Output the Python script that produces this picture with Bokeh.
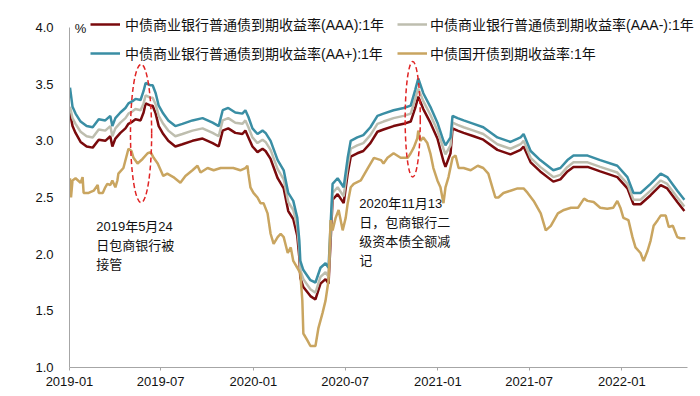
import pandas as pd
from datetime import datetime
from bokeh.plotting import figure
from bokeh.models import (Range1d, Legend, LegendItem, Label, FixedTicker,
                          NumeralTickFormatter, DatetimeTickFormatter, MonthsTicker,
                          ColumnDataSource)
from bokeh.embed import file_html
from bokeh.resources import INLINE

# ---------------- data ----------------
credit_dates = [
    "2019-01-02", "2019-01-07", "2019-01-13", "2019-01-23", "2019-02-04", "2019-02-16",
    "2019-02-28", "2019-03-13", "2019-03-23", "2019-03-27", "2019-04-02", "2019-04-12",
    "2019-04-22", "2019-04-28", "2019-05-06", "2019-05-12", "2019-05-22", "2019-05-28",
    "2019-06-01", "2019-06-11", "2019-06-15", "2019-06-21", "2019-06-27", "2019-07-06",
    "2019-07-16", "2019-07-30", "2019-08-13", "2019-09-02", "2019-09-22", "2019-10-12",
    "2019-10-24", "2019-11-01", "2019-11-12", "2019-11-26", "2019-12-10", "2019-12-16",
    "2019-12-22", "2019-12-30", "2020-01-09", "2020-01-19", "2020-01-25", "2020-02-04",
    "2020-02-18", "2020-03-01", "2020-03-10", "2020-03-20", "2020-03-28", "2020-04-01",
    "2020-04-03", "2020-04-09", "2020-04-23", "2020-05-03", "2020-05-13", "2020-05-23",
    "2020-05-29", "2020-06-02", "2020-06-06", "2020-06-16", "2020-06-28", "2020-07-06",
    "2020-07-12", "2020-07-25", "2020-08-06", "2020-08-20", "2020-09-03", "2020-09-15",
    "2020-10-05", "2020-10-25", "2020-11-08", "2020-11-17", "2020-11-23", "2020-12-03",
    "2020-12-17", "2020-12-31", "2021-01-12", "2021-01-16", "2021-01-26", "2021-01-30",
    "2021-02-09", "2021-02-21", "2021-03-13", "2021-04-01", "2021-04-29", "2021-05-25",
    "2021-06-14", "2021-06-20", "2021-07-04", "2021-07-23", "2021-08-18", "2021-09-01",
    "2021-09-15", "2021-09-27", "2021-10-25", "2021-11-19", "2021-12-23", "2022-01-12",
    "2022-01-24", "2022-02-07", "2022-02-27", "2022-03-19", "2022-04-01", "2022-04-21",
    "2022-05-05",
]
aa_plus = [
    3.47, 3.30, 3.24, 3.17, 3.13, 3.12, 3.19, 3.18, 3.22, 3.13, 3.20, 3.25,
    3.29, 3.33, 3.35, 3.37, 3.36, 3.44, 3.51, 3.49, 3.49, 3.42, 3.31, 3.24,
    3.18, 3.13, 3.15, 3.18, 3.20, 3.16, 3.13, 3.27, 3.29, 3.25, 3.24, 3.27,
    3.21, 3.11, 3.06, 3.09, 3.07, 3.00, 2.83, 2.74, 2.54, 2.47, 2.32, 2.12,
    1.94, 1.86, 1.77, 1.75, 1.88, 1.92, 1.88, 2.25, 2.62, 2.67, 2.59, 2.85,
    3.00, 3.03, 3.05, 3.12, 3.22, 3.24, 3.27, 3.29, 3.31, 3.45, 3.55, 3.42,
    3.30, 3.16, 3.00, 2.96, 3.03, 3.22, 3.20, 3.18, 3.15, 3.12, 3.03, 2.99,
    3.03, 3.06, 2.91, 2.83, 2.74, 2.76, 2.83, 2.87, 2.87, 2.83, 2.78, 2.68,
    2.54, 2.54, 2.62, 2.71, 2.68, 2.56, 2.48,
]
aaa_minus = [
    3.30, 3.20, 3.15, 3.08, 3.04, 3.03, 3.10, 3.09, 3.13, 3.04, 3.11, 3.16,
    3.20, 3.24, 3.26, 3.28, 3.27, 3.33, 3.40, 3.38, 3.38, 3.32, 3.22, 3.15,
    3.09, 3.04, 3.06, 3.09, 3.11, 3.07, 3.04, 3.18, 3.20, 3.16, 3.15, 3.18,
    3.12, 3.03, 2.98, 3.01, 2.99, 2.92, 2.75, 2.66, 2.46, 2.39, 2.24, 2.04,
    1.86, 1.78, 1.69, 1.66, 1.80, 1.84, 1.80, 2.17, 2.54, 2.59, 2.51, 2.78,
    2.93, 2.96, 2.98, 3.05, 3.15, 3.17, 3.20, 3.22, 3.24, 3.37, 3.46, 3.35,
    3.23, 3.09, 2.93, 2.88, 2.96, 3.16, 3.14, 3.12, 3.09, 3.06, 2.97, 2.93,
    2.97, 3.00, 2.85, 2.77, 2.68, 2.70, 2.77, 2.81, 2.81, 2.77, 2.72, 2.62,
    2.48, 2.48, 2.56, 2.65, 2.62, 2.50, 2.42,
]
aaa = [
    3.25, 3.13, 3.07, 2.99, 2.95, 2.94, 3.01, 3.00, 3.04, 2.95, 3.02, 3.07,
    3.11, 3.15, 3.17, 3.19, 3.18, 3.25, 3.33, 3.31, 3.31, 3.24, 3.13, 3.06,
    3.00, 2.95, 2.97, 3.00, 3.02, 2.98, 2.95, 3.09, 3.11, 3.07, 3.06, 3.09,
    3.03, 2.95, 2.90, 2.93, 2.91, 2.84, 2.67, 2.58, 2.38, 2.31, 2.16, 1.97,
    1.79, 1.71, 1.63, 1.60, 1.74, 1.78, 1.74, 2.11, 2.48, 2.53, 2.45, 2.71,
    2.86, 2.89, 2.91, 2.98, 3.08, 3.10, 3.13, 3.15, 3.17, 3.29, 3.39, 3.28,
    3.16, 3.02, 2.82, 2.77, 2.89, 3.11, 3.09, 3.07, 3.04, 3.01, 2.92, 2.88,
    2.92, 2.95, 2.81, 2.73, 2.64, 2.66, 2.73, 2.77, 2.77, 2.73, 2.68, 2.58,
    2.44, 2.44, 2.52, 2.61, 2.58, 2.46, 2.38,
]

cdb_dates = [
    "2019-01-02", "2019-01-04", "2019-01-07", "2019-01-13", "2019-01-23", "2019-01-27",
    "2019-01-29", "2019-02-08", "2019-02-18", "2019-02-26", "2019-02-28", "2019-03-08",
    "2019-03-13", "2019-03-17", "2019-03-23", "2019-03-27", "2019-04-02", "2019-04-06",
    "2019-04-08", "2019-04-18", "2019-04-28", "2019-05-04", "2019-05-08", "2019-05-16",
    "2019-05-26", "2019-06-05", "2019-06-11", "2019-06-17", "2019-06-25", "2019-07-01",
    "2019-07-06", "2019-07-14", "2019-07-26", "2019-08-09", "2019-08-19", "2019-09-02",
    "2019-09-12", "2019-09-18", "2019-10-02", "2019-10-14", "2019-10-28", "2019-11-10",
    "2019-11-22", "2019-12-06", "2019-12-16", "2019-12-20", "2019-12-22", "2019-12-26",
    "2020-01-01", "2020-01-09", "2020-01-15", "2020-01-21", "2020-01-29", "2020-02-04",
    "2020-02-10", "2020-02-18", "2020-02-24", "2020-03-01", "2020-03-09", "2020-03-15",
    "2020-03-20", "2020-03-28", "2020-04-03", "2020-04-07", "2020-04-09", "2020-04-17",
    "2020-04-23", "2020-05-03", "2020-05-09", "2020-05-17", "2020-05-23", "2020-05-29",
    "2020-06-02", "2020-06-06", "2020-06-12", "2020-06-18", "2020-06-26", "2020-07-02",
    "2020-07-06", "2020-07-12", "2020-07-18", "2020-08-01", "2020-08-15", "2020-08-27",
    "2020-09-10", "2020-09-15", "2020-09-23", "2020-10-05", "2020-10-19", "2020-11-02",
    "2020-11-08", "2020-11-14", "2020-11-21", "2020-11-23", "2020-11-27", "2020-12-03",
    "2020-12-11", "2020-12-17", "2020-12-23", "2020-12-31", "2021-01-06", "2021-01-12",
    "2021-01-16", "2021-01-22", "2021-01-30", "2021-02-05", "2021-02-11", "2021-02-21",
    "2021-03-07", "2021-03-21", "2021-04-01", "2021-04-11", "2021-04-19", "2021-04-25",
    "2021-05-01", "2021-05-11", "2021-05-25", "2021-06-08", "2021-06-20", "2021-06-28",
    "2021-07-10", "2021-07-24", "2021-08-03", "2021-08-13", "2021-08-27", "2021-09-08",
    "2021-09-22", "2021-10-06", "2021-10-12", "2021-10-18", "2021-10-25", "2021-11-06",
    "2021-11-19", "2021-12-03", "2021-12-15", "2021-12-23", "2021-12-29", "2022-01-04",
    "2022-01-14", "2022-01-22", "2022-01-28", "2022-02-07", "2022-02-13", "2022-02-21",
    "2022-02-27", "2022-03-05", "2022-03-13", "2022-03-19", "2022-03-29", "2022-04-04",
    "2022-04-12", "2022-04-21", "2022-04-27", "2022-05-07",
]
cdb = [
    2.67, 2.50, 2.65, 2.67, 2.63, 2.68, 2.54, 2.54, 2.56, 2.61, 2.54, 2.54,
    2.59, 2.62, 2.61, 2.65, 2.59, 2.65, 2.71, 2.76, 2.93, 2.91, 2.85, 2.80,
    2.84, 2.89, 2.90, 2.85, 2.80, 2.74, 2.69, 2.71, 2.68, 2.63, 2.69, 2.74,
    2.78, 2.72, 2.76, 2.74, 2.76, 2.76, 2.76, 2.74, 2.76, 2.78, 2.71, 2.59,
    2.54, 2.50, 2.45, 2.45, 2.36, 2.18, 2.09, 2.15, 2.18, 2.15, 2.01, 2.06,
    1.94, 1.88, 1.83, 1.59, 1.30, 1.24, 1.19, 1.19, 1.35, 1.48, 1.59, 1.77,
    2.30, 2.21, 2.32, 2.39, 2.21, 2.32, 2.45, 2.59, 2.62, 2.65, 2.76, 2.85,
    2.83, 2.80, 2.85, 2.89, 2.85, 2.85, 2.89, 2.94, 3.02, 3.09, 3.00, 3.03,
    2.98, 2.89, 2.76, 2.65, 2.59, 2.45, 2.59, 2.68, 2.85, 2.87, 2.76, 2.76,
    2.74, 2.78, 2.76, 2.71, 2.59, 2.50, 2.50, 2.54, 2.56, 2.58, 2.58, 2.54,
    2.47, 2.36, 2.21, 2.25, 2.36, 2.39, 2.41, 2.41, 2.45, 2.49, 2.47, 2.46,
    2.41, 2.40, 2.41, 2.47, 2.41, 2.32, 2.30, 2.15, 2.06, 2.01, 1.94, 2.03,
    2.12, 2.25, 2.30, 2.34, 2.34, 2.24, 2.25, 2.15, 2.14, 2.14,
]

series_names = [
    "中债商业银行普通债到期收益率(AAA):1年",
    "中债商业银行普通债到期收益率(AAA-):1年",
    "中债商业银行普通债到期收益率(AA+):1年",
    "中债国开债到期收益率:1年",
]
y_ticks = [1.0, 1.5, 2.0, 2.5, 3.0, 3.5, 4.0]
y_axis_bounds = (1.0, 4.0)
x_axis_bounds = (datetime(2019, 1, 1), datetime(2022, 5, 11))

# highlighted events (dashed ellipses)
event_dates = ["2019-05-23", "2020-11-12"]
event_y = [3.065, 3.19]
event_width_days = [42, 30]
event_height = [1.22, 1.02]

note_texts = ["2019年5月24\n日包商银行被\n接管", "2020年11月13\n日，包商银行二\n级资本债全额减\n记"]
note_dates = ["2019-02-23", "2020-07-29"]
note_y = [2.31, 2.51]

# ---------------- styling ----------------
FONT = "Liberation Sans, Noto Sans CJK SC"
C_AAA = "#7A0A0C"
C_AAAM = "#BEBEAF"
C_AAP = "#3A8EA4"
C_CDB = "#C9A560"
AXIS_C = "#A6A6A6"

# the frame reaches the top/right edges so the legend (drawn inside it) is not
# clipped; the axis lines themselves are bounded to the data window
p = figure(width=700, height=396, x_axis_type="datetime",
           x_range=Range1d(datetime(2019, 1, 1), datetime(2022, 6, 6)),
           y_range=Range1d(1.0, 4.238),
           output_backend="svg", toolbar_location=None,
           min_border_left=69, min_border_right=0, min_border_top=0, min_border_bottom=29)
p.outline_line_color = None
p.grid.visible = False
p.background_fill_color = "white"
p.border_fill_color = "white"

cd = pd.to_datetime(credit_dates)
src = ColumnDataSource(dict(x=cd, aaa=aaa, aaam=aaa_minus, aap=aa_plus))
csrc = ColumnDataSource(dict(x=pd.to_datetime(cdb_dates), y=cdb))

r_aaa = p.line("x", "aaa", source=src, line_color=C_AAA, line_width=2.5)
r_aaam = p.line("x", "aaam", source=src, line_color=C_AAAM, line_width=2.5)
r_aap = p.line("x", "aap", source=src, line_color=C_AAP, line_width=2.5)
r_cdb = p.line("x", "y", source=csrc, line_color=C_CDB, line_width=2.5)

esrc = ColumnDataSource(dict(
    x=pd.to_datetime(event_dates), y=event_y,
    w=[d * 86400000 for d in event_width_days], h=event_height))
p.ellipse(x="x", y="y", width="w", height="h", source=esrc,
          fill_color=None, line_color="#E02424", line_width=1.5, line_dash="5 3")

# axes
p.yaxis.ticker = FixedTicker(ticks=y_ticks)
p.yaxis.bounds = y_axis_bounds
p.yaxis.formatter = NumeralTickFormatter(format="0.0")
p.yaxis.major_tick_out = 0
p.yaxis.major_tick_in = 0
p.yaxis.minor_tick_out = 0
p.yaxis.minor_tick_in = 0
p.yaxis.major_label_standoff = 16
p.yaxis.axis_line_color = AXIS_C

p.xaxis.ticker = MonthsTicker(months=[0, 6])
p.xaxis.bounds = x_axis_bounds
p.xaxis.formatter = DatetimeTickFormatter(months="%Y-%m", years="%Y-%m", days="%Y-%m")
p.xaxis.major_tick_out = 3
p.xaxis.major_tick_in = 0
p.xaxis.minor_tick_out = 0
p.xaxis.minor_tick_in = 0
p.xaxis.major_label_standoff = 6
p.xaxis.axis_line_color = AXIS_C
p.xaxis.major_tick_line_color = AXIS_C

for ax in (p.xaxis[0], p.yaxis[0]):
    ax.major_label_text_font = FONT
    ax.major_label_text_font_size = "13px"
    ax.major_label_text_color = "#111111"

# legends (two columns)
leg_common = dict(orientation="vertical", padding=0, spacing=9, margin=0,
                  glyph_width=30, glyph_height=20, label_height=20,
                  border_line_color=None, background_fill_alpha=0,
                  label_text_font=FONT, label_text_font_size="14px",
                  label_text_color="#111111")
leg1 = Legend(items=[LegendItem(label=series_names[0], renderers=[r_aaa]),
                     LegendItem(label=series_names[2], renderers=[r_aap])],
              location=(21, 304), label_standoff=5, **leg_common)
leg2 = Legend(items=[LegendItem(label=series_names[1], renderers=[r_aaam]),
                     LegendItem(label=series_names[3], renderers=[r_cdb])],
              location=(328, 304), label_standoff=3, **leg_common)
p.add_layout(leg1)
p.add_layout(leg2)

# unit label
p.add_layout(Label(x=11, y=339, x_units="screen", y_units="screen", text="%",
                   text_font=FONT, text_font_size="13px", text_color="#111111",
                   text_align="center", text_baseline="middle"))

# notes
for t, d, yv in zip(note_texts, note_dates, note_y):
    p.add_layout(Label(x=pd.Timestamp(d).timestamp() * 1000, y=yv, text=t,
                       text_font=FONT, text_font_size="13px", text_color="#111111",
                       text_align="left", text_baseline="top", text_line_height=1.27))

open("out.html", "w").write(file_html(p, INLINE))
